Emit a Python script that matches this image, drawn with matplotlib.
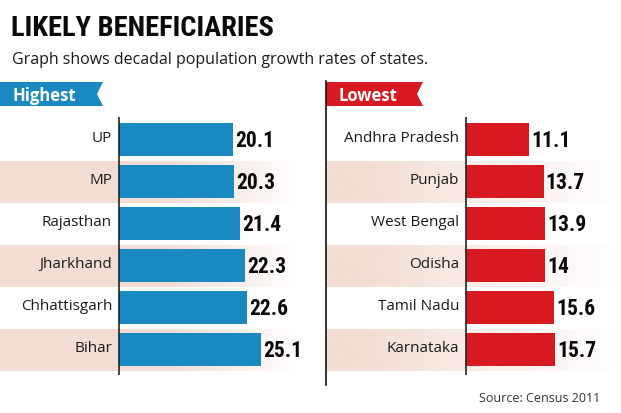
import numpy as np
import matplotlib
matplotlib.use("Agg")
import matplotlib.pyplot as plt
from matplotlib import font_manager as fm
from matplotlib.patches import Polygon

# data
high_states = ["UP", "MP", "Rajasthan", "Jharkhand", "Chhattisgarh", "Bihar"]
high_values = [20.1, 20.3, 21.4, 22.3, 22.6, 25.1]
low_states = ["Andhra Pradesh", "Punjab", "West Bengal", "Odisha", "Tamil Nadu", "Karnataka"]
low_values = [11.1, 13.7, 13.9, 14, 15.6, 15.7]
high_labels = ["20.1", "20.3", "21.4", "22.3", "22.6", "25.1"]
low_labels = ["11.1", "13.7", "13.9", "14", "15.6", "15.7"]

BLUE = "#1a88c1"
RED = "#d71921"
PINK = "#f3ddd4"
W, H = 621, 414

names = {f.name for f in fm.fontManager.ttflist}
COND = next((n for n in ["Roboto Condensed", "Liberation Sans Narrow", "Open Sans Condensed"]
             if n in names), "DejaVu Sans")
REG = "Open Sans" if "Open Sans" in names else "DejaVu Sans"

fig = plt.figure(figsize=(W / 100, H / 100), dpi=100)
fig.patch.set_facecolor("white")

# background axes in pixel coordinates for headings, ribbons and divider
bg = fig.add_axes([0, 0, 1, 1])
bg.set_xlim(0, W)
bg.set_ylim(H, 0)
bg.axis("off")

bg.text(11, 36, "LIKELY BENEFICIARIES", family=COND, fontstretch="condensed",
        fontweight="bold", fontsize=20.5, color="#0a0a0a", va="baseline")
bg.text(12, 64, "Graph shows decadal population growth rates of states.",
        family=REG, fontsize=11.5, color="#1a1a1a", va="baseline")


def ribbon(x0, x1, color, label):
    pts = [(x0, 83), (x1, 83), (x1 - 6, 95), (x1, 107), (x0, 107)]
    bg.add_patch(Polygon(pts, closed=True, facecolor=color, edgecolor="none"))
    bg.text(x0 + 13, 96, label, family=REG, fontweight="bold", fontsize=12,
            color="white", va="center")


ribbon(0, 103, BLUE, "Highest")
ribbon(326, 423, RED, "Lowest")
bg.plot([326, 326], [82, 386], color="#111111", lw=1.2)

bg.text(600, 402, "Source: Census 2011", family=REG, fontsize=9,
        color="#333333", ha="right", va="baseline")

PX = 5.67        # pixels per unit
ROW = 42         # row pitch in pixels
TOP = 118        # top of the axis lines
BOT = 376
ROW0 = 140.5     # centre of the first row


def panel(px_left, px_right, px_zero, states, values, labels, color, fade):
    ax = fig.add_axes([px_left / W, 1 - BOT / H, (px_right - px_left) / W, (BOT - TOP) / H])
    ax.patch.set_visible(False)
    ax.set_xlim((px_left - px_zero) / PX, (px_right - px_zero) / PX)
    ax.set_ylim((BOT - ROW0) / ROW, (TOP - ROW0) / ROW)
    for s in ax.spines.values():
        s.set_visible(False)
    ax.set_xticks([])
    ax.set_yticks([])

    # pink row bands fading out to the right
    x0, x1 = ax.get_xlim()
    grad = np.clip((1 - np.linspace(0, 1, 300)) / fade, 0, 1)
    img = np.zeros((1, 300, 4))
    img[..., :3] = matplotlib.colors.to_rgb(PINK)
    img[..., 3] = grad
    for i in range(1, len(states), 2):
        ax.imshow(img, extent=(x0, x1, i + 0.5, i - 0.5), aspect="auto",
                  interpolation="bilinear", zorder=0)
    ax.set_ylim((BOT - ROW0) / ROW, (TOP - ROW0) / ROW)
    ax.set_xlim(x0, x1)

    y = np.arange(len(states))
    ax.barh(y, values, height=33 / ROW, color=color, zorder=2)
    ax.axvline(0, color="#222222", lw=1.2, zorder=3)
    for yi, v, lab, st in zip(y, values, labels, states):
        ax.annotate(lab, (v, yi), xytext=(1.5, -0.5), textcoords="offset points",
                    family=COND, fontstretch="condensed", fontweight="bold",
                    fontsize=15.5, color="#0a0a0a", va="center", ha="left", zorder=4)
        ax.annotate(st, (0, yi), xytext=(-5, -1.3), textcoords="offset points",
                    family=REG, fontsize=11, color="#1a1a1a", va="baseline", ha="right", zorder=4)
    return ax


panel(0, 300, 119, high_states, high_values, high_labels, BLUE, 0.45)
panel(327, 621, 466, low_states, low_values, low_labels, RED, 0.9)

fig.savefig("out.png", dpi=100, facecolor="white")
